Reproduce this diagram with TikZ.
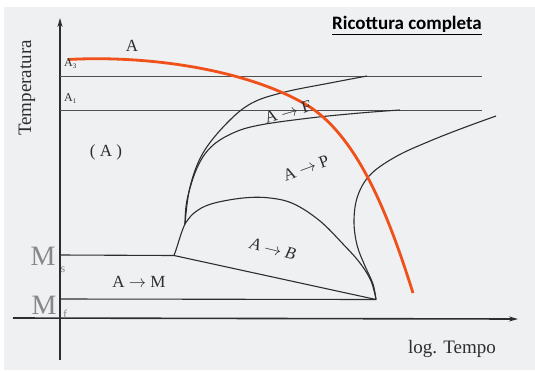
\documentclass[tikz,border=0pt]{standalone}
\usepackage{fontspec}
\setmainfont{Liberation Serif}
\newfontfamily\titlefont{Carlito}
\usetikzlibrary{arrows.meta}
\definecolor{bgc}{RGB}{238,240,242}
\definecolor{ink}{RGB}{45,45,45}
\definecolor{thin}{RGB}{80,80,80}
\definecolor{mgray}{RGB}{135,135,135}
\definecolor{cool}{RGB}{240,80,25}
\tikzset{
  curve/.style={draw=ink, line width=1.1pt},
  hline/.style={draw=thin, line width=0.7pt},
  axis/.style={draw=ink, line width=1.6pt, -{Stealth[length=9pt,width=5pt]}},
  lbl/.style={text=ink, font=\fontsize{17}{17}\selectfont, inner sep=0pt},
  mlbl/.style={text=mgray, font=\fontsize{28}{28}\selectfont, inner sep=0pt},
  msub/.style={text=mgray, font=\fontsize{12}{12}\selectfont, inner sep=0pt},
}
\begin{document}
\begin{tikzpicture}[x=1pt,y=-1pt]
\useasboundingbox (0,0) rectangle (535,370);
\fill[white] (0,0) rectangle (535,370);
\fill[bgc] (4,7) rectangle (535,370);
% axes
\coordinate (yb) at (60,360); \coordinate (yt) at (60,18);
\coordinate (xl) at (13,318); \coordinate (xr) at (518,319);
\draw[axis] (yb) -- (yt);
\draw[axis] (xl) -- (xr);
% critical lines
\coordinate (a3l) at (60,76); \coordinate (a3r) at (482,76);
\coordinate (a1l) at (60,110); \coordinate (a1r) at (482,110);
\draw[hline] (a3l) -- (a3r);
\draw[hline] (a1l) -- (a1r);
% Ms, Mf
\coordinate (msl) at (60,255); \coordinate (msc) at (174,255.5);
\coordinate (mfl) at (60,299); \coordinate (nose) at (376,299.5);
\coordinate (bs) at (185,224);
\draw[curve] (msl) -- (msc) -- (nose);
\draw[curve] (mfl) -- (nose);
\draw[curve] (msc) .. controls (178,245) and (181,232) .. (bs);
% ferrite start
\draw[curve] plot[smooth, tension=0.6] coordinates {(185,224) (190,187) (203,153) (227,123) (252,103) (285,92) (330,83) (367,76)};
% pearlite start
\draw[curve] plot[smooth, tension=0.6] coordinates {(185,224) (187,200) (197,168) (211,147) (233,133) (260,125) (310,118) (360,113) (400,110)};
% pearlite finish
\draw[curve] plot[smooth, tension=0.6] coordinates {(496,116) (463,128) (430,141) (397,156) (371,174) (358,195) (354,220) (357,245) (365,266) (373,284) (376,299.5)};
% bainite dome
\draw[curve] plot[smooth, tension=0.6] coordinates {(185,224) (194,213) (211,204) (243,198) (270,198) (294,204) (320,221) (343,244) (360,263) (371,281) (376,299.5)};
% cooling curve
\coordinate (c0) at (68,59.5); \coordinate (c1) at (310,107); \coordinate (c2) at (413,293);
\draw[draw=cool, line width=2.8pt] (c0) .. controls (150,55) and (250,70) .. (c1) .. controls (360,140) and (390,220) .. (c2);
% labels
\node[lbl, font=\fontsize{19}{19}\selectfont, rotate=90] (temp) at (27,88) {Temperatura};
\node[lbl, font=\fontsize{19}{19}\selectfont] (tempo) at (452,349) {log. Tempo};
\node[lbl] (la) at (132,46) {A};
\node[lbl, anchor=west, font=\fontsize{12}{12}\selectfont] (la3) at (64,64) {A\raisebox{-2pt}{\fontsize{7}{7}\selectfont 3}};
\node[lbl, anchor=west, font=\fontsize{12}{12}\selectfont] (la1) at (64,99) {A\raisebox{-2pt}{\fontsize{7}{7}\selectfont 1}};
\node[lbl] (laus) at (106,152) {( A )};
\node[lbl, rotate=16] (laf) at (288,112) {A $\rightarrow$ F};
\node[lbl, rotate=20] (lap) at (306,168) {A $\rightarrow$ P};
\node[lbl, rotate=-14, font=\itshape\fontsize{17}{17}\selectfont] (lab) at (273,249) {A $\rightarrow$ B};
\node[lbl] (lam) at (139,282) {A $\rightarrow$ M};
\node[mlbl] (ms) at (43,256) {M};
\node[msub] (mss) at (63,270) {s};
\node[mlbl] (mf) at (44,305) {M};
\node[msub] (mfs) at (65,314) {f};
\node[text=black, font=\titlefont\bfseries\fontsize{19}{19}\selectfont, inner sep=0pt] (title) at (407,24) {Ricottura completa};
\draw[black, line width=0.9pt] ([yshift=-2.5pt]title.south west) -- ([yshift=-2.5pt]title.south east);
\end{tikzpicture}
\end{document}
